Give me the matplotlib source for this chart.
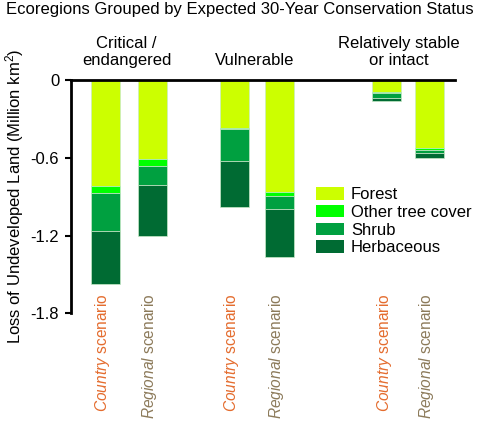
import matplotlib
matplotlib.use("Agg")
import matplotlib.pyplot as plt
import numpy as np
from matplotlib.patches import Patch

plt.rcParams['font.family'] = ['Liberation Sans', 'DejaVu Sans']
plt.rcParams['mathtext.fontset'] = 'custom'
plt.rcParams['mathtext.rm'] = 'Liberation Sans'
plt.rcParams['mathtext.it'] = 'Liberation Sans:italic'

# ---- data ----
groups = ["Critical /\nendangered", "Vulnerable", "Relatively stable\nor intact"]
scenarios = ["Country", "Regional", "Country", "Regional", "Country", "Regional"]
land_types = ["Forest", "Other tree cover", "Shrub", "Herbaceous"]
forest = [0.817, 0.609, 0.373, 0.861, 0.093, 0.527]
other_tree = [0.057, 0.054, 0.007, 0.031, 0.005, 0.013]
shrub = [0.290, 0.147, 0.245, 0.100, 0.038, 0.025]
herbaceous = [0.410, 0.390, 0.357, 0.373, 0.026, 0.034]
yticks = [0, -0.6, -1.2, -1.8]
ytick_labels = ["0", "-0.6", "-1.2", "-1.8"]

# ---- style / layout ----
colors = ["#CCFF00", "#00FF00", "#00A040", "#006B33"]
scen_colors = {"Country": "#E46C2E", "Regional": "#8C7A5A"}
xpos = [0, 1.02, 2.80, 3.78, 6.12, 7.05]
width = 0.63

fig = plt.figure(figsize=(4.79, 4.29), dpi=100)
ax = fig.add_axes([71/479, 1 - 313.3/429, (455-71)/479, (313.3-80)/429])

series = [forest, other_tree, shrub, herbaceous]
bottom = np.zeros(len(xpos))
for vals, c, name in zip(series, colors, land_types):
    v = -np.array(vals)
    ax.bar(xpos, v, width=width, bottom=bottom, color=c, edgecolor="#C8EAC8",
           linewidth=0.5, label=name)
    bottom = bottom + v

ax.set_xlim(-0.75, 7.6)
ax.set_ylim(-1.8, 0)
ax.set_yticks(yticks)
ax.set_yticklabels(ytick_labels, fontsize=12)
ax.set_xticks([])
for s in ["right", "bottom"]:
    ax.spines[s].set_visible(False)
ax.spines["top"].set_linewidth(2)
ax.spines["left"].set_linewidth(2)
ax.spines["left"].set_bounds(-1.8, 0)
ax.tick_params(axis="y", length=4.5, width=1.5, direction="out", pad=4)

ax.set_ylabel("Loss of Undeveloped Land (Million km$^2$)", fontsize=12)
ax.yaxis.set_label_coords(-0.118, 0.5)

# group labels
group_centers = [(xpos[0] + xpos[1]) / 2, (xpos[2] + xpos[3]) / 2, (xpos[4] + xpos[5]) / 2]
offsets = [-0.05, -0.05, -0.2]
for gx, g, o in zip(group_centers, groups, offsets):
    ax.text(gx + o, 0.09, g, ha="center", va="bottom", fontsize=12,
            transform=ax.transData, linespacing=1.2)

# scenario labels
for x, s in zip(xpos, scenarios):
    ax.text(x - 0.06, -1.645, r"$\it{" + s + r"}$" + " scenario", rotation=90,
            ha="center", va="top", fontsize=11.2, color=scen_colors[s],
            transform=ax.transData)

fig.suptitle("Ecoregions Grouped by Expected 30-Year Conservation Status",
             fontsize=12, y=0.995, va="top", x=0.5)

handles = [Patch(facecolor=c, edgecolor="none") for c in colors]
ax.legend(handles, land_types, loc="upper left", bbox_to_anchor=(0.638, 0.54),
          frameon=False, fontsize=12, handlelength=1.7, handleheight=0.75,
          handletextpad=0.4, labelspacing=0.16, borderpad=0, borderaxespad=0)

fig.savefig("out.png", dpi=100)
